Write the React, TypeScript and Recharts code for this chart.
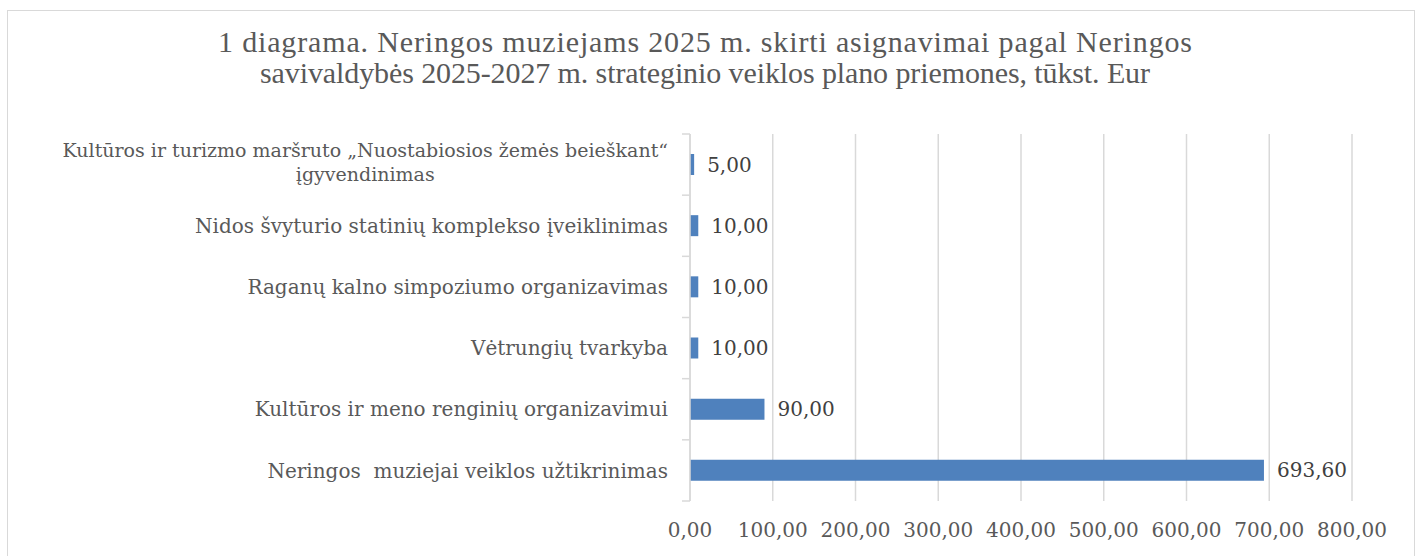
import React from 'react';
import { BarChart, Bar, XAxis, YAxis, CartesianGrid, LabelList } from 'recharts';

const titleLines = [
  '1 diagrama. Neringos muziejams 2025 m. skirti asignavimai pagal Neringos',
  'savivaldybės 2025-2027 m. strateginio veiklos plano priemones, tūkst. Eur',
];
// widths the two title lines take up in the reference
const titleWidths = [974, 890];

const categories = [
  'Kultūros ir turizmo maršruto „Nuostabiosios žemės beieškant“\nįgyvendinimas',
  'Nidos švyturio statinių komplekso įveiklinimas',
  'Raganų kalno simpoziumo organizavimas',
  'Vėtrungių tvarkyba',
  'Kultūros ir meno renginių organizavimui',
  'Neringos  muziejai veiklos užtikrinimas',
];

const values = [5, 10, 10, 10, 90, 693.6];

const xTicks = [0, 100, 200, 300, 400, 500, 600, 700, 800];

const data = categories.map((name, i) => ({ name, value: values[i] }));

const fmt = (v: number) => Number(v).toFixed(2).replace('.', ',');

const LABEL_FONT = "'DejaVu Serif', serif";
const LABEL_SIZE = 20;
const WRAP_SIZE = 19; // the two-line label runs a bit wider in DejaVu
const PLOT_H = 367;
const BAND = PLOT_H / categories.length;

let canvasCtx: CanvasRenderingContext2D | null = null;
const measure = (text: string, size: number) => {
  if (!canvasCtx) canvasCtx = document.createElement('canvas').getContext('2d');
  if (!canvasCtx) return text.length * size * 0.55;
  canvasCtx.font = `${size}px 'DejaVu Serif'`;
  return canvasCtx.measureText(text).width;
};

// category label, plus the small tick marks at the band borders
const CatTick = (props: any) => {
  const { x, y, payload, index } = props;
  const lines = String(payload.value).split('\n');
  const top = y - BAND / 2;
  const lx1 = x + 14;
  const lx2 = x + 22;
  let textEl;
  if (lines.length > 1) {
    const w = measure(lines[0], WRAP_SIZE);
    const cx = x - w / 2;
    textEl = (
      <text fill="#595959" fontFamily={LABEL_FONT} fontSize={WRAP_SIZE} textAnchor="middle">
        <tspan x={cx} y={y - 8}>{lines[0]}</tspan>
        <tspan x={cx} y={y + 16}>{lines[1]}</tspan>
      </text>
    );
  } else {
    textEl = (
      <text x={x} y={y} dy="0.36em" fill="#595959" fontFamily={LABEL_FONT} fontSize={LABEL_SIZE} textAnchor="end" style={{ whiteSpace: 'pre' }}>
        {lines[0]}
      </text>
    );
  }
  return (
    <g>
      <line x1={lx1} x2={lx2} y1={top} y2={top} stroke="#d9d9d9" strokeWidth={1.5} />
      {index === categories.length - 1 && (
        <line x1={lx1} x2={lx2} y1={top + BAND} y2={top + BAND} stroke="#d9d9d9" strokeWidth={1.5} />
      )}
      {textEl}
    </g>
  );
};

export default function App() {
  return (
    <div
      style={{
        position: 'absolute',
        left: 7,
        top: 10,
        width: 1406,
        height: 560,
        border: '1px solid #d9d9d9',
        background: '#fff',
      }}
    >
      <svg width={1406} height={100} style={{ position: 'absolute', left: 0, top: 0 }}>
        {titleLines.map((t, i) => (
          <text
            key={i}
            x={697}
            y={41 + i * 31}
            textAnchor="middle"
            textLength={titleWidths[i]}
            lengthAdjust="spacing"
            fill="#595959"
            fontFamily="'Liberation Serif', serif"
            fontSize={30}
          >
            {t}
          </text>
        ))}
      </svg>
      <div style={{ position: 'absolute', left: 0, top: 0 }}>
        <BarChart
          width={1405}
          height={545}
          data={data}
          layout="vertical"
          margin={{ top: 123, right: 61, bottom: 0, left: 0 }}
          barCategoryGap={0}
        >
          <CartesianGrid horizontal={false} stroke="#d9d9d9" strokeWidth={1.5} />
          <XAxis
            type="number"
            domain={[0, 800]}
            ticks={xTicks}
            tickFormatter={fmt}
            axisLine={false}
            tickLine={false}
            height={55}
            tickMargin={16}
            tick={{ fill: '#595959', fontSize: 20, fontFamily: LABEL_FONT }}
          />
          <YAxis
            type="category"
            dataKey="name"
            width={682}
            interval={0}
            axisLine={{ stroke: '#d9d9d9', strokeWidth: 1.5 }}
            tickLine={false}
            tickSize={8}
            tickMargin={14}
            tick={<CatTick />}
          />
          <Bar dataKey="value" fill="#4f81bd" barSize={21} isAnimationActive={false}>
            <LabelList
              dataKey="value"
              position="right"
              offset={13}
              formatter={(v: any) => fmt(v)}
              fill="#404040"
              fontSize={20}
              fontFamily={LABEL_FONT}
            />
          </Bar>
        </BarChart>
      </div>
    </div>
  );
}
